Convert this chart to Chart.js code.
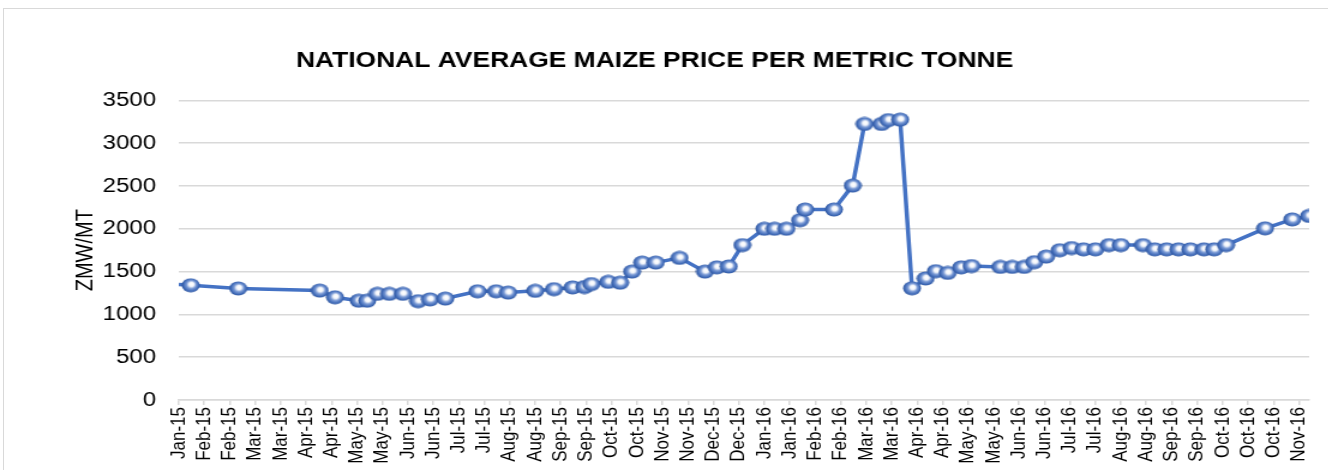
<!DOCTYPE html>
<html>
<head>
<meta charset="utf-8">
<script src="https://cdn.jsdelivr.net/npm/chart.js@4.4.1/dist/chart.umd.min.js"></script>
<style>
  html, body { margin: 0; padding: 0; background: #fff; }
  #wrap { position: relative; width: 1328px; height: 470px; overflow: hidden; }
  #frame { position: absolute; left: 3px; top: 8px; width: 1340px; height: 500px; border: 1px solid #d9d9d9; }
  #maize { position: absolute; left: 0; top: 0; transform: scaleX(1.2); transform-origin: 0 0; }
</style>
</head>
<body>
<div id="wrap">
  <div id="frame"></div>
  <canvas id="maize" width="1107" height="470"></canvas>
</div>
<script>
'use strict';

// ===== DATA =====
// days counted from 25 Jan 2015 (the first tick of the date axis)
const dayOffsets = [0, 7, 35, 83, 92, 106, 111, 117, 124, 132, 141, 148, 157, 176, 187, 194, 210, 221, 232, 239,
    243, 253, 260, 267, 273, 281, 295, 310, 317, 324, 332, 345, 351, 358, 366, 369, 386, 397, 404, 414,
    418, 425, 432, 440, 446, 453, 461, 467, 484, 491, 498, 504, 511, 519, 526, 533, 540, 548, 555, 568,
    575, 582, 589, 596, 604, 610, 617, 640, 656, 666];
const prices = [1350, 1340, 1303, 1278, 1200, 1160, 1160, 1240, 1240, 1240, 1155, 1175, 1185, 1270, 1270, 1255, 1275, 1295, 1315, 1320,
    1355, 1380, 1370, 1500, 1605, 1605, 1660, 1500, 1550, 1560, 1810, 2000, 2000, 2000, 2100, 2225, 2225, 2505, 3225, 3225,
    3270, 3275, 1305, 1420, 1505, 1485, 1550, 1565, 1555, 1555, 1555, 1610, 1675, 1750, 1775, 1760, 1760, 1810, 1810, 1810,
    1760, 1760, 1760, 1760, 1760, 1760, 1810, 2005, 2110, 2150];
const tickLabels = ['Jan-15', 'Feb-15', 'Feb-15', 'Mar-15', 'Mar-15', 'Apr-15', 'Apr-15', 'May-15', 'May-15', 'Jun-15',
    'Jun-15', 'Jul-15', 'Jul-15', 'Aug-15', 'Aug-15', 'Sep-15', 'Sep-15', 'Oct-15', 'Oct-15', 'Nov-15',
    'Nov-15', 'Dec-15', 'Dec-15', 'Jan-16', 'Jan-16', 'Feb-16', 'Feb-16', 'Mar-16', 'Mar-16', 'Apr-16',
    'Apr-16', 'May-16', 'May-16', 'Jun-16', 'Jun-16', 'Jul-16', 'Jul-16', 'Aug-16', 'Aug-16', 'Sep-16',
    'Sep-16', 'Oct-16', 'Oct-16', 'Oct-16', 'Nov-16'];
const tickStepDays = 15;
const yTicks = [0, 500, 1000, 1500, 2000, 2500, 3000, 3500];

const FONT = "'Liberation Sans', Arial, sans-serif";

// ===== shiny sphere marker =====
function makeMarker(w, h) {
    const c = document.createElement('canvas');
    c.width = w; c.height = h;
    const g = c.getContext('2d');
    const grad = g.createRadialGradient(w * 0.55, h * 0.42, 0.5, w * 0.5, h * 0.5, w * 0.55);
    grad.addColorStop(0, '#ffffff');
    grad.addColorStop(0.2, '#f2f5fb');
    grad.addColorStop(0.42, '#7b9bd6');
    grad.addColorStop(0.7, '#3d68b6');
    grad.addColorStop(1, '#22427f');
    g.fillStyle = grad;
    g.beginPath();
    g.ellipse(w / 2, h / 2, w / 2 - 0.5, h / 2 - 0.5, 0, 0, Math.PI * 2);
    g.fill();
    return c;
}
const marker = makeMarker(16, 15);

const points = dayOffsets.map((d, i) => ({ x: d, y: prices[i] }));

new Chart(document.getElementById('maize'), {
    type: 'line',
    data: {
        datasets: [{
            label: 'Price',
            data: points,
            borderColor: '#4472C4',
            borderWidth: 3.5,
            tension: 0,
            pointStyle: marker,
            pointRadius: ctx => ctx.dataIndex === 0 ? 0 : 8,
            pointHoverRadius: ctx => ctx.dataIndex === 0 ? 0 : 8,
        }]
    },
    options: {
        responsive: false,
        animation: false,
        devicePixelRatio: 1,
        layout: { padding: { left: 0, right: 16, top: 0, bottom: 0 } },
        plugins: {
            legend: { display: false },
            tooltip: { enabled: false },
            title: {
                display: true,
                text: 'NATIONAL AVERAGE MAIZE PRICE PER METRIC TONNE',
                color: '#000',
                font: { family: FONT, size: 22, weight: 'bold' },
                padding: { top: 48, bottom: 26 }
            }
        },
        scales: {
            x: {
                type: 'linear',
                min: 0,
                max: dayOffsets[dayOffsets.length - 1],
                afterBuildTicks: s => { s.ticks = tickLabels.map((_, i) => ({ value: i * tickStepDays })); },
                afterFit: s => { s.height = 70; },
                ticks: {
                    autoSkip: false, minRotation: 90, maxRotation: 90, padding: 2,
                    color: '#000', font: { family: FONT, size: 17 },
                    callback: v => tickLabels[Math.round(v / tickStepDays)]
                },
                grid: { drawOnChartArea: false, drawTicks: true, tickLength: 5, color: '#d9d9d9', lineWidth: 1.5 },
                border: { display: true, color: '#d9d9d9', width: 1.5 }
            },
            y: {
                min: 0,
                max: 3500,
                afterBuildTicks: s => { s.ticks = yTicks.map(v => ({ value: v })); },
                afterFit: s => { s.width = 149; },
                ticks: {
                    padding: 19, color: '#000', font: { family: FONT, size: 20 },
                    callback: v => String(v)
                },
                grid: { drawTicks: false, color: '#d9d9d9', lineWidth: 1.5 },
                border: { display: false },
                title: {
                    display: true, text: 'ZMW/MT', color: '#000',
                    font: { family: FONT, size: 20 },
                    padding: { top: 59, bottom: 0 }
                }
            }
        }
    }
});
</script>
</body>
</html>
